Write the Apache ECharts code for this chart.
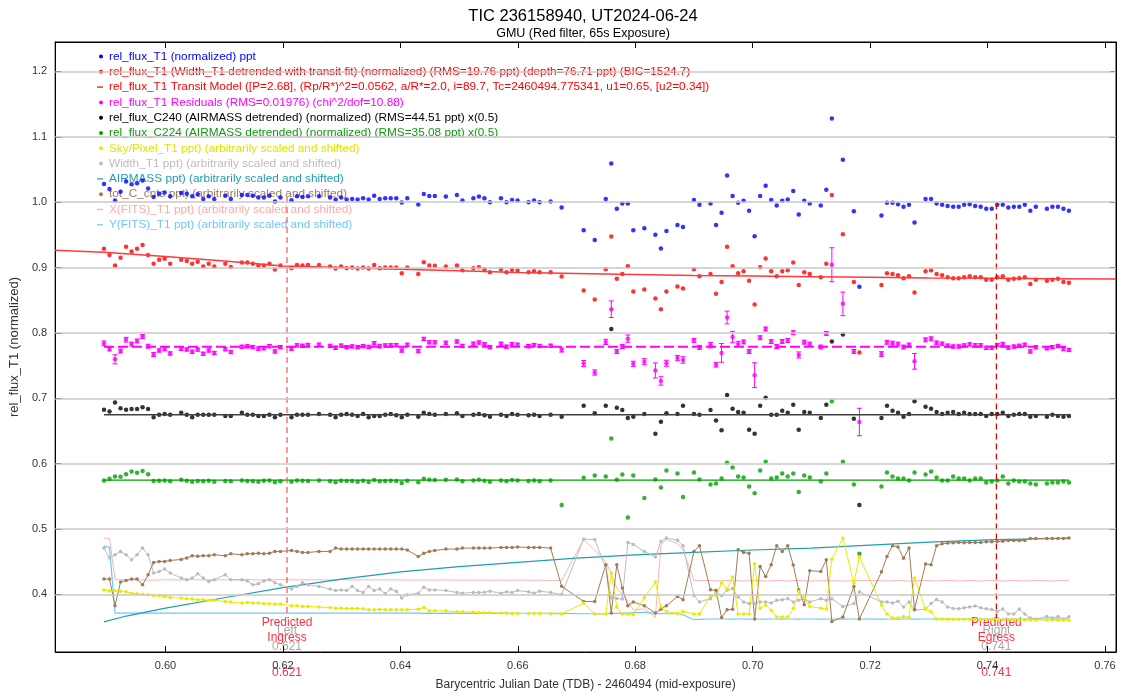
<!DOCTYPE html>
<html>
<head>
<meta charset="utf-8">
<title>TIC 236158940, UT2024-06-24</title>
<script src="https://cdn.jsdelivr.net/npm/echarts@6/dist/echarts.min.js"></script>
<style>
  html, body { margin: 0; padding: 0; background: #fff; }
  #main { width: 1125px; height: 696px; }
</style>
</head>
<body>
<div id="main"></div>
<script>
// BJD_TDB - 2460494 (mid-exposure), kept frames only
var bjd = [
  0.58953, 0.59047, 0.59141, 0.59235, 0.59329, 0.59423, 0.59516, 0.59610, 0.59704, 0.59798,
  0.59892, 0.59986, 0.60080, 0.60268, 0.60362, 0.60455, 0.60549, 0.60643, 0.60737, 0.60831,
  0.61019, 0.61113, 0.61301, 0.61394, 0.61488, 0.61582, 0.61676, 0.61770, 0.61864, 0.61958,
  0.62146, 0.62240, 0.62333, 0.62427, 0.62615, 0.62803, 0.62897, 0.62991, 0.63085, 0.63179,
  0.63272, 0.63366, 0.63460, 0.63554, 0.63648, 0.63742, 0.63836, 0.63930, 0.64024, 0.64118,
  0.64305, 0.64399, 0.64493, 0.64587, 0.64775, 0.64963, 0.65057, 0.65244, 0.65338, 0.65432,
  0.65526, 0.65714, 0.65808, 0.65902, 0.65996, 0.66183, 0.66277, 0.66371, 0.66559, 0.66747,
  0.67122, 0.67310, 0.67498, 0.67592, 0.67686, 0.67780, 0.67874, 0.67967, 0.68155, 0.68343,
  0.68437, 0.68531, 0.68719, 0.68813, 0.69000, 0.69094, 0.69282, 0.69376, 0.69470, 0.69564,
  0.69658, 0.69752, 0.69845, 0.69939, 0.70033, 0.70127, 0.70221, 0.70315, 0.70409, 0.70503,
  0.70597, 0.70691, 0.70784, 0.70878, 0.70972, 0.71160, 0.71254, 0.71348, 0.71536, 0.71723,
  0.71817, 0.72193, 0.72287, 0.72381, 0.72475, 0.72569, 0.72662, 0.72756, 0.72944, 0.73038,
  0.73132, 0.73226, 0.73320, 0.73414, 0.73508, 0.73601, 0.73695, 0.73789, 0.73883, 0.73977,
  0.74071, 0.74165, 0.74259, 0.74353, 0.74447, 0.74540, 0.74634, 0.74728, 0.74822, 0.75010,
  0.75104, 0.75198, 0.75292, 0.75386
];

// rel_flux_T1 (normalized)
var relFlux = [
  1.028, 1.020, 1.0025, 1.016, 1.0315, 1.0275, 1.029, 1.033, 1.021, 1.008,
  1.013, 1.015, 1.009, 1.014, 1.013, 1.009, 1.012, 1.005, 1.009, 1.005,
  1.010, 1.005, 1.011, 1.011, 1.010, 1.007, 1.007, 1.010, 1.001, 1.007,
  1.003, 1.009, 1.008, 1.009, 1.009, 1.007, 1.004, 1.007, 1.004, 1.005,
  1.004, 1.006, 1.004, 1.010, 1.005, 1.006, 1.006, 1.006, 0.9996, 1.006,
  0.9965, 1.0125, 1.0096, 1.0096, 1.0086, 1.011, 1.0025, 1.006, 1.0086, 1.006,
  1.000, 1.006, 1.000, 1.0035, 1.0025, 1.000, 1.0025, 1.000, 1.001, 0.9917,
  0.957, 0.942, 1.005, 1.059, 0.990, 0.998, 0.998, 0.957, 0.960, 0.950,
  0.929, 0.956, 0.965, 0.962, 1.0035, 0.996, 0.998, 0.965, 0.984, 1.041,
  1.0096, 0.999, 1.002, 0.987, 0.948, 1.0096, 1.025, 1.0035, 0.995, 1.002,
  1.004, 1.017, 0.981, 1.002, 0.998, 0.995, 1.019, 1.128, 1.065, 0.986,
  0.8705, 0.9795, 0.999, 0.999, 0.997, 0.993, 0.996, 0.969, 1.005, 1.005,
  0.998, 0.996, 0.994, 0.993, 0.993, 0.996, 0.997, 0.994, 0.993, 0.990,
  0.990, 0.996, 0.996, 0.992, 0.993, 0.993, 0.996, 0.987, 0.993, 0.990,
  0.993, 0.993, 0.990, 0.987
];

// rel_flux_T1 detrended (shown shifted)
var detrended = [
  0.9286, 0.9194, 0.903, 0.915, 0.9317, 0.9245, 0.9286, 0.9347, 0.9194, 0.906,
  0.9118, 0.9133, 0.906, 0.9118, 0.9102, 0.906, 0.9087, 0.9016, 0.906, 0.9016,
  0.906, 0.901, 0.9077, 0.9077, 0.906, 0.903, 0.903, 0.9057, 0.897, 0.903,
  0.899, 0.904, 0.903, 0.904, 0.904, 0.9016, 0.8985, 0.9016, 0.899, 0.900,
  0.8985, 0.900, 0.8985, 0.904, 0.899, 0.900, 0.900, 0.900, 0.8914, 0.900,
  0.890, 0.9083, 0.903, 0.9026, 0.9016, 0.903, 0.896, 0.899, 0.9006, 0.8976,
  0.893, 0.8976, 0.893, 0.8965, 0.8954, 0.893, 0.8945, 0.893, 0.893, 0.8862,
  0.865, 0.851, 0.8976, 0.9474, 0.8827, 0.890, 0.902, 0.8633, 0.8664, 0.8526,
  0.8364, 0.8633, 0.871, 0.868, 0.8976, 0.8868, 0.890, 0.860, 0.878, 0.932,
  0.902, 0.8914, 0.8945, 0.8797, 0.8434, 0.9006, 0.9138, 0.8945, 0.8868, 0.8945,
  0.896, 0.9077, 0.8735, 0.893, 0.890, 0.8853, 0.906, 1.011, 0.951, 0.878,
  0.770, 0.8735, 0.8914, 0.890, 0.8884, 0.8838, 0.8868, 0.8618, 0.8945, 0.896,
  0.890, 0.8884, 0.8853, 0.8838, 0.8838, 0.8853, 0.8868, 0.8853, 0.8853, 0.8812,
  0.8812, 0.8853, 0.8868, 0.8812, 0.8827, 0.8838, 0.8853, 0.875, 0.8812, 0.8797,
  0.8812, 0.8827, 0.878, 0.8766
];

// transit model line
var modelTimes = [0.5812, 0.5895, 0.600, 0.610, 0.620, 0.630, 0.640, 0.650, 0.660, 0.670,
  0.680, 0.690, 0.700, 0.710, 0.720, 0.730, 0.740, 0.750, 0.7619];
var modelFlux = [0.9265, 0.9235, 0.917, 0.910, 0.9025, 0.900, 0.8975, 0.895, 0.8925, 0.891,
  0.8895, 0.888, 0.887, 0.886, 0.885, 0.884, 0.8835, 0.883, 0.8825];

// residuals (shifted) and their errors
var residuals = [
  0.7841, 0.7755, 0.7597, 0.7723, 0.7896, 0.783, 0.7877, 0.7944, 0.7797, 0.7669,
  0.7732, 0.7753, 0.7686, 0.7757, 0.7747, 0.7712, 0.7745, 0.7681, 0.7732, 0.7694,
  0.7751, 0.7708, 0.7788, 0.7795, 0.7784, 0.776, 0.7766, 0.7798, 0.7717, 0.7783,
  0.7759, 0.7811, 0.7803, 0.7816, 0.782, 0.7801, 0.7772, 0.7806, 0.7782, 0.7794,
  0.7782, 0.7799, 0.7786, 0.7844, 0.7796, 0.7809, 0.7811, 0.7813, 0.773, 0.7818,
  0.7723, 0.7908, 0.7857, 0.7856, 0.785, 0.7869, 0.7801, 0.7836, 0.7854, 0.7827,
  0.7783, 0.7834, 0.779, 0.7828, 0.7819, 0.7798, 0.7814, 0.7801, 0.7804, 0.7738,
  0.7532, 0.7395, 0.7863, 0.8363, 0.7717, 0.7792, 0.7913, 0.7528, 0.7561, 0.7426,
  0.7266, 0.7536, 0.7616, 0.7587, 0.7886, 0.7779, 0.7813, 0.7514, 0.7695, 0.8236,
  0.7937, 0.7832, 0.7863, 0.7716, 0.7354, 0.7927, 0.806, 0.7868, 0.7792, 0.787,
  0.7886, 0.8004, 0.7663, 0.7859, 0.783, 0.7785, 0.7993, 0.9043, 0.8445, 0.7717,
  0.6638, 0.7677, 0.7857, 0.7844, 0.7829, 0.7784, 0.7815, 0.7566, 0.7894, 0.791,
  0.7851, 0.7836, 0.7806, 0.7792, 0.7793, 0.7809, 0.7825, 0.7811, 0.7812, 0.7772,
  0.7773, 0.7815, 0.7831, 0.7776, 0.7791, 0.7803, 0.7819, 0.7717, 0.778, 0.7767,
  0.7783, 0.7799, 0.7753, 0.774
];
var residErr = [
  0.0036, 0.003, 0.007, 0.003, 0.0036, 0.003, 0.003, 0.003, 0.003, 0.003,
  0.0025, 0.0025, 0.0025, 0.0025, 0.0025, 0.0025, 0.0025, 0.0025, 0.0025, 0.0025,
  0.0025, 0.0025, 0.0025, 0.0025, 0.0025, 0.0025, 0.0025, 0.0025, 0.0025, 0.0025,
  0.0025, 0.0025, 0.0025, 0.0025, 0.0025, 0.0025, 0.0025, 0.0025, 0.0025, 0.0025,
  0.0025, 0.0025, 0.0025, 0.0025, 0.0025, 0.0025, 0.0025, 0.0025, 0.0025, 0.0025,
  0.0025, 0.0025, 0.0025, 0.0025, 0.0025, 0.0025, 0.0025, 0.0025, 0.0025, 0.0025,
  0.0025, 0.0025, 0.0025, 0.0025, 0.0025, 0.0025, 0.0025, 0.0025, 0.0025, 0.003,
  0.0046, 0.004, 0.004, 0.0127, 0.003, 0.003, 0.0056, 0.004, 0.0046, 0.0115,
  0.0064, 0.0046, 0.004, 0.005, 0.003, 0.003, 0.004, 0.0036, 0.0143, 0.0097,
  0.0087, 0.004, 0.003, 0.003, 0.019, 0.003, 0.003, 0.003, 0.003, 0.003,
  0.003, 0.003, 0.0046, 0.003, 0.003, 0.003, 0.003, 0.026, 0.018, 0.003,
  0.021, 0.0036, 0.003, 0.003, 0.003, 0.003, 0.003, 0.012, 0.003, 0.003,
  0.0025, 0.0025, 0.0025, 0.0025, 0.0025, 0.0025, 0.0025, 0.0025, 0.0025, 0.0025,
  0.0025, 0.0025, 0.0025, 0.0025, 0.0025, 0.0025, 0.0025, 0.0025, 0.0025, 0.0025,
  0.0025, 0.0025, 0.0025, 0.0025
];

// comparison stars (shifted, x0.5)
var c240 = [
  0.6824, 0.680, 0.6936, 0.685, 0.6824, 0.6835, 0.6835, 0.6865, 0.6835, 0.6712,
  0.6748, 0.676, 0.6748, 0.678, 0.6748, 0.6712, 0.6748, 0.6748, 0.6748, 0.6748,
  0.673, 0.673, 0.678, 0.6748, 0.6748, 0.673, 0.673, 0.6748, 0.6712, 0.6748,
  0.6712, 0.6748, 0.6748, 0.6748, 0.676, 0.6748, 0.6712, 0.6748, 0.676, 0.6748,
  0.673, 0.676, 0.6712, 0.673, 0.673, 0.675, 0.676, 0.674, 0.671, 0.675,
  0.672, 0.678, 0.676, 0.675, 0.676, 0.677, 0.673, 0.675, 0.676, 0.674,
  0.672, 0.675, 0.673, 0.676, 0.675, 0.674, 0.675, 0.673, 0.675, 0.672,
  0.6885, 0.677, 0.6885, 0.806, 0.6855, 0.682, 0.670, 0.672, 0.676, 0.646,
  0.664, 0.677, 0.676, 0.6885, 0.676, 0.675, 0.682, 0.666, 0.651, 0.705,
  0.684, 0.679, 0.678, 0.652, 0.646, 0.6885, 0.701, 0.675, 0.675, 0.681,
  0.678, 0.690, 0.652, 0.679, 0.678, 0.670, 0.690, 0.787, 0.7975, 0.6687,
  0.537, 0.670, 0.6885, 0.681, 0.678, 0.6717, 0.676, 0.6957, 0.687, 0.684,
  0.679, 0.676, 0.678, 0.679, 0.676, 0.678, 0.676, 0.676, 0.676, 0.673,
  0.676, 0.676, 0.678, 0.673, 0.675, 0.676, 0.676, 0.6717, 0.673, 0.6717,
  0.675, 0.673, 0.6717, 0.673
];
var c224 = [
  0.5745, 0.577, 0.5805, 0.580, 0.584, 0.588, 0.586, 0.589, 0.584, 0.5735,
  0.574, 0.5745, 0.573, 0.5755, 0.574, 0.5725, 0.5735, 0.573, 0.574, 0.5725,
  0.5735, 0.573, 0.5745, 0.5735, 0.573, 0.5725, 0.574, 0.5745, 0.5715, 0.573,
  0.5725, 0.5745, 0.574, 0.5735, 0.5745, 0.573, 0.5715, 0.574, 0.5735, 0.5735,
  0.5725, 0.574, 0.572, 0.575, 0.573, 0.5735, 0.574, 0.5735, 0.5705, 0.574,
  0.5715, 0.577, 0.5755, 0.575, 0.5755, 0.576, 0.573, 0.5745, 0.5755, 0.574,
  0.5725, 0.5745, 0.573, 0.575, 0.5745, 0.5735, 0.5745, 0.573, 0.5745, 0.537,
  0.5784, 0.582, 0.5805, 0.6385, 0.5754, 0.5835, 0.5178, 0.582, 0.5474, 0.5758,
  0.5636, 0.5896, 0.585, 0.549, 0.5866, 0.5758, 0.5682, 0.5697, 0.5774, 0.6014,
  0.5942, 0.5805, 0.579, 0.565, 0.555, 0.5896, 0.603, 0.5774, 0.579, 0.585,
  0.5805, 0.585, 0.5566, 0.582, 0.579, 0.5728, 0.585, 0.6957, 0.603, 0.5682,
  0.4622, 0.565, 0.5866, 0.5805, 0.5774, 0.5774, 0.5743, 0.5866, 0.5835, 0.588,
  0.579, 0.5743, 0.5743, 0.5805, 0.5774, 0.5774, 0.5743, 0.5774, 0.5774, 0.5713,
  0.5728, 0.5743, 0.5805, 0.5697, 0.5743, 0.5728, 0.5728, 0.5697, 0.5682, 0.5697,
  0.5713, 0.5713, 0.5728, 0.5713
];

// fitted levels of the shifted curves
var fitSpan = [0.58953, 0.75386];
var residLevel = 0.779;
var c240Level = 0.675;
var c224Level = 0.575;

// auxiliary curves (arbitrarily scaled and shifted)
var skyPixel = [
  0.4067, 0.4057, 0.4057, 0.405, 0.404, 0.402, 0.401, 0.4005, 0.3995, 0.3985,
  0.398, 0.397, 0.3955, 0.3945, 0.3935, 0.393, 0.392, 0.392, 0.391, 0.391,
  0.3893, 0.3883, 0.3868, 0.3878, 0.3868, 0.3868, 0.3858, 0.3858, 0.3853, 0.3853,
  0.3827, 0.3827, 0.3817, 0.3817, 0.3807, 0.380, 0.379, 0.379, 0.3785, 0.3785,
  0.3785, 0.378, 0.3766, 0.3766, 0.3775, 0.3766, 0.3766, 0.3766, 0.3766, 0.3766,
  0.3775, 0.380, 0.375, 0.375, 0.375, 0.3735, 0.3735, 0.373, 0.3725, 0.372,
  0.372, 0.3716, 0.3716, 0.371, 0.371, 0.371, 0.371, 0.371, 0.3705, 0.3701,
  0.3869, 0.3701, 0.370, 0.4327, 0.3807, 0.3701, 0.3701, 0.369, 0.395, 0.419,
  0.3807, 0.374, 0.371, 0.374, 0.3701, 0.3701, 0.398, 0.398, 0.4175, 0.4083,
  0.4266, 0.3701, 0.3701, 0.3701, 0.4465, 0.379, 0.384, 0.376, 0.3655, 0.3655,
  0.3655, 0.379, 0.4046, 0.395, 0.3815, 0.379, 0.3776, 0.454, 0.4862, 0.4175,
  0.4572, 0.384, 0.3701, 0.364, 0.364, 0.3663, 0.365, 0.4251, 0.3776, 0.3735,
  0.3624, 0.3624, 0.3622, 0.3622, 0.362, 0.362, 0.362, 0.362, 0.3618, 0.3618,
  0.3618, 0.3615, 0.3615, 0.3615, 0.3612, 0.3612, 0.3612, 0.361, 0.361, 0.361,
  0.361, 0.3608, 0.3608, 0.3605
];
var widthT1 = [
  0.4709, 0.4557, 0.4607, 0.4658, 0.4607, 0.453, 0.4607, 0.4709, 0.4607, 0.4327,
  0.435, 0.4389, 0.4327, 0.4251, 0.4226, 0.4251, 0.4316, 0.4251, 0.420, 0.4226,
  0.4302, 0.4226, 0.4226, 0.4207, 0.4148, 0.4163, 0.4207, 0.4226, 0.418, 0.4148,
  0.4083, 0.4122, 0.418, 0.4148, 0.4122, 0.4083, 0.406, 0.407, 0.406, 0.4122,
  0.406, 0.403, 0.4122, 0.406, 0.4083, 0.401, 0.4083, 0.405, 0.3945, 0.3996,
  0.402, 0.411, 0.407, 0.407, 0.406, 0.403, 0.402, 0.403, 0.403, 0.4035,
  0.405, 0.402, 0.404, 0.403, 0.406, 0.404, 0.402, 0.405, 0.403, 0.400,
  0.4847, 0.484, 0.44, 0.395, 0.394, 0.393, 0.4795, 0.4765, 0.4658, 0.4572,
  0.481, 0.4862, 0.483, 0.4745, 0.3983, 0.3886, 0.3936, 0.404, 0.3983, 0.4063,
  0.409, 0.396, 0.3886, 0.386, 0.386, 0.3886, 0.3886, 0.387, 0.391, 0.392,
  0.3936, 0.3886, 0.391, 0.3936, 0.3886, 0.3936, 0.391, 0.3936, 0.3815, 0.386,
  0.404, 0.3886, 0.3886, 0.387, 0.3896, 0.3807, 0.3886, 0.376, 0.3776, 0.386,
  0.3922, 0.3886, 0.3807, 0.3786, 0.378, 0.3796, 0.3807, 0.3825, 0.3796, 0.378,
  0.377, 0.374, 0.3776, 0.3701, 0.3701, 0.3776, 0.3701, 0.364, 0.3625, 0.3663,
  0.364, 0.3663, 0.3625, 0.366
];
var totCnts = [
  0.4235, 0.4235, 0.3827, 0.419, 0.4215, 0.4235, 0.4235, 0.4148, 0.430, 0.4489,
  0.4505, 0.4505, 0.452, 0.4535, 0.4557, 0.4592, 0.4585, 0.4592, 0.4592, 0.4607,
  0.4592, 0.4622, 0.4607, 0.4622, 0.4622, 0.4632, 0.4622, 0.4632, 0.4658, 0.4658,
  0.4673, 0.4658, 0.4643, 0.4643, 0.4658, 0.4658, 0.4709, 0.4694, 0.4694, 0.4694,
  0.4694, 0.4694, 0.4694, 0.4694, 0.4694, 0.4694, 0.4694, 0.4694, 0.4694, 0.468,
  0.4581, 0.4632, 0.4658, 0.4673, 0.4694, 0.4694, 0.4709, 0.4709, 0.4709, 0.4709,
  0.4709, 0.472, 0.472, 0.472, 0.4725, 0.472, 0.472, 0.472, 0.4709, 0.4125,
  0.3893, 0.3893, 0.4456, 0.3716, 0.4456, 0.4098, 0.3827, 0.3886, 0.3827, 0.3716,
  0.3775, 0.3827, 0.397, 0.392, 0.4658, 0.4745, 0.4072, 0.4063, 0.3649, 0.3765,
  0.3775, 0.4684, 0.4643, 0.463, 0.3624, 0.4428, 0.4275, 0.4456, 0.4745, 0.4658,
  0.4745, 0.445, 0.407, 0.3841, 0.4363, 0.4352, 0.4531, 0.3587, 0.3655, 0.412,
  0.3624, 0.4346, 0.4581, 0.4745, 0.4725, 0.4555, 0.4709, 0.3775, 0.4467, 0.4456,
  0.4745, 0.4776, 0.4786, 0.479, 0.4795, 0.479, 0.4795, 0.4795, 0.4795, 0.4805,
  0.4805, 0.481, 0.4815, 0.4825, 0.4825, 0.4825, 0.4825, 0.4855, 0.4855, 0.4855,
  0.4855, 0.4855, 0.4855, 0.4862
];
var xFits = [
  0.486, 0.486, 0.4225, 0.4228, 0.4225, 0.4222, 0.4225, 0.4222, 0.4218, 0.422,
  0.4222, 0.4225, 0.4225, 0.4222, 0.4225, 0.4228, 0.4225, 0.4222, 0.4225, 0.4222,
  0.4225, 0.4222, 0.4225, 0.4228, 0.4225, 0.4222, 0.4225, 0.4222, 0.4225, 0.4228,
  0.4225, 0.4222, 0.4225, 0.4222, 0.4225, 0.4222, 0.4225, 0.4228, 0.4225, 0.4222,
  0.4222, 0.4225, 0.4222, 0.4225, 0.4222, 0.4222, 0.4225, 0.4222, 0.4222, 0.422,
  0.4222, 0.422, 0.4222, 0.422, 0.4222, 0.422, 0.4218, 0.422, 0.4218, 0.422,
  0.4218, 0.422, 0.4218, 0.4218, 0.422, 0.4218, 0.4215, 0.4218, 0.4215, 0.4215,
  0.484, 0.468, 0.45, 0.432, 0.41, 0.40, 0.39, 0.376, 0.378, 0.365,
  0.476, 0.484, 0.478, 0.468, 0.4215, 0.421, 0.4215, 0.4205, 0.421, 0.4215,
  0.421, 0.4215, 0.4205, 0.421, 0.4215, 0.421, 0.4205, 0.421, 0.4215, 0.421,
  0.4205, 0.421, 0.4215, 0.421, 0.4205, 0.421, 0.4215, 0.421, 0.4205, 0.421,
  0.4215, 0.421, 0.4205, 0.421, 0.4215, 0.421, 0.4205, 0.421, 0.4215, 0.421,
  0.4205, 0.421, 0.4215, 0.421, 0.4205, 0.421, 0.4215, 0.421, 0.4205, 0.421,
  0.4215, 0.421, 0.4205, 0.421, 0.4215, 0.421, 0.4205, 0.421, 0.4215, 0.421,
  0.4205, 0.421, 0.4215, 0.421
];
var yFits = [
  0.474, 0.472, 0.3716, 0.3716, 0.3716, 0.3714, 0.3716, 0.3716, 0.3714, 0.3716,
  0.3716, 0.3714, 0.3716, 0.3716, 0.3714, 0.3716, 0.3716, 0.3714, 0.3716, 0.3716,
  0.3714, 0.3716, 0.3716, 0.3714, 0.3716, 0.3716, 0.3714, 0.3716, 0.3716, 0.3714,
  0.3716, 0.3716, 0.3714, 0.3716, 0.3716, 0.3714, 0.3716, 0.3716, 0.3714, 0.3716,
  0.3714, 0.3714, 0.3716, 0.3714, 0.3714, 0.3716, 0.3714, 0.3714, 0.3716, 0.3714,
  0.3714, 0.3712, 0.3714, 0.3712, 0.3714, 0.3712, 0.3714, 0.3712, 0.3712, 0.3712,
  0.3712, 0.371, 0.3712, 0.371, 0.371, 0.3712, 0.371, 0.371, 0.371, 0.371,
  0.3705, 0.3705, 0.3705, 0.371, 0.371, 0.3716, 0.3716, 0.3722, 0.3725, 0.371,
  0.3705, 0.3705, 0.3705, 0.369, 0.3613, 0.3618, 0.3625, 0.3625, 0.3625, 0.3625,
  0.3622, 0.3625, 0.3625, 0.3622, 0.3625, 0.3625, 0.3622, 0.3625, 0.3625, 0.3622,
  0.3625, 0.3625, 0.3622, 0.3625, 0.3625, 0.3622, 0.3625, 0.3625, 0.3622, 0.3625,
  0.3625, 0.3622, 0.3625, 0.3625, 0.3622, 0.3625, 0.3625, 0.3622, 0.3625, 0.3625,
  0.3622, 0.3625, 0.3625, 0.3622, 0.3625, 0.3625, 0.3622, 0.3625, 0.3625, 0.3622,
  0.3625, 0.3625, 0.3622, 0.3625, 0.3625, 0.3622, 0.3625, 0.3625, 0.3622, 0.3625,
  0.3625, 0.3622, 0.3625, 0.3625
];
var airTimes = [0.58953, 0.5933, 0.600, 0.610, 0.620, 0.630, 0.640, 0.650, 0.660,
  0.670, 0.680, 0.690, 0.700, 0.710, 0.720, 0.730, 0.740, 0.75386];
var airmass = [0.358, 0.367, 0.379, 0.395, 0.4105, 0.4235, 0.4345, 0.4425, 0.449,
  0.4555, 0.4605, 0.4645, 0.468, 0.471, 0.4755, 0.480, 0.4835, 0.4862];

// predicted ingress / egress
var predictedT = [0.6207, 0.7415];
var predictedTop = [1.008, 0.998];
var predictedBottom = 0.364;
var predictedText = ['0.621', '0.741'];
var predictedSide = ['Ingress', 'Egress'];
var predictedWord = ['Left', 'Right'];

var xTicks = [0.60, 0.62, 0.64, 0.66, 0.68, 0.70, 0.72, 0.74, 0.76];
var yTicks = [0.4, 0.5, 0.6, 0.7, 0.8, 0.9, 1.0, 1.1, 1.2];

var FONT = '"Liberation Sans", Arial, sans-serif';

function pairs(xs, ys) {
    return xs.map(function (t, i) { return [t, ys[i]]; });
}
function level(v) {
    return [[fitSpan[0], v], [fitSpan[1], v]];
}
function dots(name, ys, color, size) {
    return {
        name: name, type: 'scatter', data: pairs(bjd, ys),
        symbol: 'circle', symbolSize: size || 4.5,
        itemStyle: { color: color }
    };
}
function trace(name, xs, ys, color, withDots, width) {
    return {
        name: name, type: 'line', data: pairs(xs, ys),
        showSymbol: !!withDots, symbol: 'circle', symbolSize: 3.5,
        lineStyle: { color: color, width: width || 1 },
        itemStyle: { color: color }
    };
}
function flat(name, v, color, width, dash) {
    return {
        name: name, type: 'line', data: level(v), showSymbol: false,
        lineStyle: { color: color, width: width, type: dash || 'solid' }
    };
}

// error bars on the residuals
function renderErrorBar(params, api) {
    var t = api.value(0), v = api.value(1), e = api.value(2);
    var hi = api.coord([t, v + e]);
    var lo = api.coord([t, v - e]);
    var w = 2.5;
    var st = { stroke: '#ff00ff', lineWidth: 1 };
    return {
        type: 'group',
        children: [
            { type: 'line', shape: { x1: hi[0], y1: hi[1], x2: lo[0], y2: lo[1] }, style: st },
            { type: 'line', shape: { x1: hi[0] - w, y1: hi[1], x2: hi[0] + w, y2: hi[1] }, style: st },
            { type: 'line', shape: { x1: lo[0] - w, y1: lo[1], x2: lo[0] + w, y2: lo[1] }, style: st }
        ]
    };
}

var chart = echarts.init(document.getElementById('main'));

var axisText = { color: '#333', fontSize: 11, fontFamily: FONT };

var option = {
    animation: false,
    backgroundColor: '#fff',
    grid: { left: 51, right: 9, top: 42, bottom: 44, show: true, borderColor: '#000', borderWidth: 1 },
    xAxis: [{
        type: 'value', min: 0.58122, max: 0.76187, position: 'bottom',
        axisLine: { lineStyle: { color: '#000' } },
        axisTick: { inside: true, length: 6, customValues: xTicks, lineStyle: { color: '#000' } },
        axisLabel: Object.assign({ customValues: xTicks, margin: 8, formatter: function (v) { return v.toFixed(2); } }, axisText),
        splitLine: { show: false },
        name: 'Barycentric Julian Date (TDB) - 2460494 (mid-exposure)',
        nameLocation: 'middle', nameGap: 27,
        nameTextStyle: { color: '#333', fontSize: 12, fontFamily: FONT }
    }, {
        type: 'value', min: 0.58122, max: 0.76187, position: 'top',
        axisLine: { lineStyle: { color: '#000' } },
        axisTick: { inside: true, length: 6, customValues: xTicks, lineStyle: { color: '#000' } },
        axisLabel: { show: false, customValues: xTicks },
        splitLine: { show: false }
    }],
    yAxis: [{
        type: 'value', min: 0.312, max: 1.245, position: 'left',
        axisLine: { show: true, lineStyle: { color: '#000' } },
        axisTick: { show: true, inside: true, length: 6, customValues: yTicks, lineStyle: { color: '#000' } },
        axisLabel: Object.assign({ customValues: yTicks, margin: 8, formatter: function (v) { return v.toFixed(1); } }, axisText),
        splitLine: { show: false },
        name: 'rel_flux_T1 (normalized)',
        nameLocation: 'middle', nameGap: 25,
        nameTextStyle: { color: '#333', fontSize: 13, fontFamily: FONT }
    }, {
        type: 'value', min: 0.312, max: 1.245, position: 'right',
        axisLine: { show: true, lineStyle: { color: '#000' } },
        axisTick: { show: true, inside: true, length: 6, customValues: yTicks, lineStyle: { color: '#000' } },
        axisLabel: { show: false, customValues: yTicks },
        splitLine: { show: false }
    }],
    series: [
        // horizontal grid lines
        {
            name: 'grid', type: 'line', data: [], z: 1,
            markLine: {
                silent: true, symbol: 'none', label: { show: false },
                lineStyle: { color: '#c8c8c8', width: 1.5, type: 'solid' },
                data: yTicks.map(function (v) { return { yAxis: v }; })
            }
        },
        trace('X(FITS)_T1', bjd, xFits, '#ffb4b4', false),
        trace('Y(FITS)_T1', bjd, yFits, '#6ec8f5', false, 1.2),
        trace('AIRMASS', airTimes, airmass, '#1e9eb2', false, 1.2),
        trace('Width_T1', bjd, widthT1, '#bcbcbc', true),
        trace('tot_C_cnts', bjd, totCnts, '#a27b55', true),
        trace('Sky/Pixel_T1', bjd, skyPixel, '#eaea00', true),
        flat('C224 fit', c224Level, '#00a000', 1.3),
        dots('rel_flux_C224', c224, '#00a000', 4.5),
        flat('C240 fit', c240Level, '#404040', 1.5),
        dots('rel_flux_C240', c240, '#000', 4.5),
        flat('residual mean', residLevel, '#ff00ff', 2, [10, 4]),
        {
            name: 'residual errors', type: 'custom', renderItem: renderErrorBar,
            data: bjd.map(function (t, i) { return [t, residuals[i], residErr[i]]; }),
            encode: { x: 0, y: 1 }
        },
        dots('rel_flux_T1 Residuals', residuals, '#ff00ff', 4.5),
        trace('Transit Model', modelTimes, modelFlux, '#ff3a3a', false, 1.5),
        dots('rel_flux_T1 detrended', detrended, '#ff0000', 4.5),
        dots('rel_flux_T1', relFlux, '#0000ff', 4.5),
        {
            name: 'ingress', type: 'line', showSymbol: false,
            data: [[predictedT[0], predictedTop[0]], [predictedT[0], predictedBottom]],
            lineStyle: { color: '#ff5050', width: 1.2, type: [6, 4] }
        },
        {
            name: 'egress', type: 'line', showSymbol: false,
            data: [[predictedT[1], predictedTop[1]], [predictedT[1], predictedBottom]],
            lineStyle: { color: '#dd0000', width: 1.2, type: [6, 4] }
        }
    ]
};
chart.setOption(option);

// titles, legend and predicted-time labels
function txt(x, y, s, color, size, align) {
    return {
        type: 'text', x: x, y: y, silent: true,
        style: {
            text: s, fill: color, font: size + 'px ' + FONT,
            textAlign: align || 'left', textVerticalAlign: 'middle',
            align: align || 'left', verticalAlign: 'middle'
        }
    };
}

var legendItems = [
    ['dot', '#0000ff', '#0000ff', 'rel_flux_T1 (normalized) ppt'],
    ['dot', '#ff0000', '#ff0000', 'rel_flux_T1 (Width_T1 detrended with transit fit) (normalized) (RMS=19.76 ppt) (depth=76.71 ppt) (BIC=1524.7)'],
    ['dash', '#ff0000', '#ff0000', 'rel_flux_T1 Transit Model ([P=2.68], (Rp/R*)^2=0.0562, a/R*=2.0, i=89.7, Tc=2460494.775341, u1=0.65, [u2=0.34])'],
    ['dot', '#ff00ff', '#ff00ff', 'rel_flux_T1 Residuals (RMS=0.01976) (chi^2/dof=10.88)'],
    ['dot', '#000000', '#000000', 'rel_flux_C240 (AIRMASS detrended) (normalized) (RMS=44.51 ppt) x(0.5)'],
    ['dot', '#00a000', '#109a10', 'rel_flux_C224 (AIRMASS detrended) (normalized) (RMS=35.08 ppt) x(0.5)'],
    ['dot', '#eaea00', '#e2e200', 'Sky/Pixel_T1 ppt) (arbitrarily scaled and shifted)'],
    ['dot', '#bcbcbc', '#bcbcbc', 'Width_T1 ppt) (arbitrarily scaled and shifted)'],
    ['dash', '#1e9eb2', '#1e9eb2', 'AIRMASS ppt) (arbitrarily scaled and shifted)'],
    ['dot', '#a27b55', '#a27b55', 'tot_C_cnts ppt) (arbitrarily scaled and shifted)'],
    ['dash', '#ffaaaa', '#ffaaaa', 'X(FITS)_T1 ppt) (arbitrarily scaled and shifted)'],
    ['dash', '#6ec8f5', '#6ec8f5', 'Y(FITS)_T1 ppt) (arbitrarily scaled and shifted)']
];

var elements = [];
elements.push(txt(583, 16, 'TIC 236158940, UT2024-06-24', '#000', 16.5, 'center'));
elements.push(txt(583, 34, 'GMU (Red filter, 65s Exposure)', '#000', 12.5, 'center'));

legendItems.forEach(function (it, i) {
    var y = 56.5 + i * 15.3;
    if (it[0] === 'dot') {
        elements.push({ type: 'circle', silent: true, shape: { cx: 101, cy: y, r: 2 }, style: { fill: it[1] } });
    } else {
        elements.push({ type: 'line', silent: true, shape: { x1: 97, y1: y, x2: 103, y2: y }, style: { stroke: it[1], lineWidth: 1.2 } });
    }
    elements.push(txt(109, y, it[3], it[2], 11.8));
});

predictedT.forEach(function (t, i) {
    var x = chart.convertToPixel({ xAxisIndex: 0 }, t);
    elements.push(txt(x, 631, predictedWord[i], '#a8a8a8', 12, 'center'));
    elements.push(txt(x, 647, predictedText[i], '#a8a8a8', 12, 'center'));
    elements.push(txt(x, 623, 'Predicted', '#ff3040', 12, 'center'));
    elements.push(txt(x, 638, predictedSide[i], '#ff3040', 12, 'center'));
    elements.push(txt(x, 673, predictedText[i], '#ff3040', 12, 'center'));
});

chart.setOption({ graphic: { elements: elements } });
</script>
</body>
</html>
